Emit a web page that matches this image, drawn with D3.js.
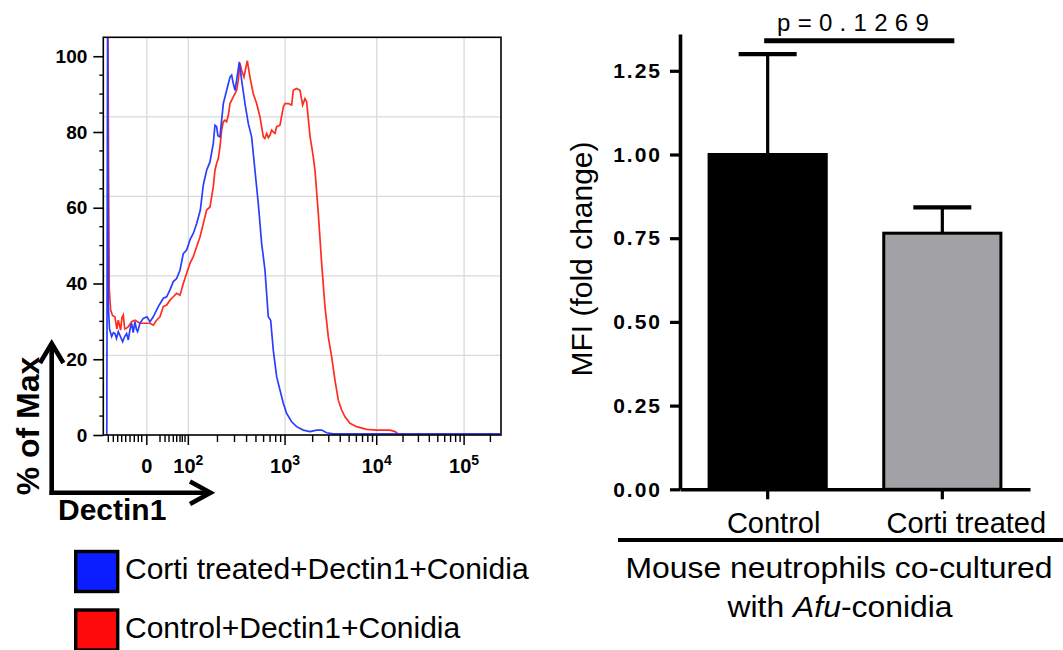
<!DOCTYPE html>
<html><head><meta charset="utf-8">
<script src="https://cdn.jsdelivr.net/npm/d3@7"></script>
<style>
html,body{margin:0;padding:0;background:#fff;}
svg{display:block;font-family:Arial,"Liberation Sans",sans-serif;}
</style></head>
<body>
<svg id="chart" width="1063" height="650"></svg>
<script>
// ---------- Histogram data (display channel 0-1024, % of max) ----------
const cortiCurve = [[9,0],[11,105],[12,70],[13,34],[16,28],[21.5,26],[26,27],[30,26.8],[34,25.5],[38.6,27.3],[44,26],[49.8,24.6],[55,26],[60,26.8],[64.4,25.1],[69,28],[73,29.5],[77,27],[81.5,29.9],[85,28],[88.4,27.3],[94.4,29.5],[103,30.8],[112.4,31.2],[120.2,29.9],[128.7,31.2],[141.6,33.9],[154.5,36.1],[163.1,36.5],[171.7,38.3],[180.2,40.5],[188.8,41.3],[197.4,43.5],[206,47.9],[214.6,48.8],[223.1,51.5],[231.7,53.2],[240.3,55.8],[249.8,59.4],[257.5,66],[266.1,69.9],[274.7,72.1],[283.2,77],[287.5,81.8],[291.8,81.4],[295,79],[300.4,78.7],[309,87.5],[317.6,91],[326.2,94.5],[330.5,95],[334.7,92.8],[339,91],[343.3,93.7],[350.2,98.5],[356.2,93.7],[364.8,87.5],[373.4,82.2],[381.9,78.7],[390.5,69.9],[399.1,61.1],[407.7,50.6],[416.3,43.5],[424.8,31.2],[430.9,30.3],[437.7,22.4],[446.3,15.4],[454.9,11.9],[463.5,8.4],[472.1,5.7],[484.9,3.5],[497.8,2.2],[515,1.3],[532.1,0.9],[549.3,1.3],[562.2,1.3],[575.1,0.6],[592.2,0.3],[1021,0.3]];
const controlCurve = [[12,105],[13.5,70],[15.4,38.3],[18.9,33],[24,31.5],[30,31.2],[35,28],[38.6,30.3],[44.6,27.7],[48,31],[51.5,31.7],[55,28],[58.4,28.1],[64.4,28.6],[73,29.9],[81.5,30.3],[94.4,29.5],[107.3,29.5],[120.2,29.5],[128.7,29],[137.3,30.3],[145.9,31.2],[154.5,33.9],[163.1,34.3],[171.7,35.6],[180.2,36.5],[188.8,37.4],[197.4,36.9],[206,40],[214.6,42.7],[223.1,45.3],[231.7,47.1],[240.3,49.7],[248.9,52.3],[257.5,55.8],[266.1,59.4],[274.7,60.2],[278.9,62.9],[283.2,65.5],[287.5,69.9],[291.8,71.7],[296.1,73],[300.4,76.1],[304.7,80.5],[309,82.7],[313.3,83.1],[317.6,82.7],[321.9,84.4],[326.2,87.5],[334.7,89.3],[343.3,91],[347.6,93.7],[351.9,98.1],[356.2,96.3],[362.2,94.5],[367.4,97.2],[370.8,98.8],[377.6,94.5],[386.2,90.1],[394.8,87.5],[403.4,84],[412,78.7],[416,78.3],[420.6,79.6],[425,78.5],[429.2,79.2],[433.4,80.5],[437.7,80],[442,79.6],[446.3,81.4],[454.9,81.8],[463.5,86.6],[467.8,87.5],[476.3,87.5],[484.9,87.1],[489.2,91],[497.8,91.5],[506.4,91],[513.3,87.1],[519.3,88.8],[523.6,88],[532.1,79],[540.7,73.4],[545,69.9],[553.6,58.5],[562.2,45.3],[570.8,33.9],[579.3,25.9],[587.9,20.7],[596.5,14.5],[605.1,9.2],[613.7,6.6],[622.3,4.8],[635.1,3.1],[652.3,2.2],[678.1,1.5],[703.8,1.3],[738.1,1.3],[751,0.9],[759.6,0.3],[1021,0.3]];
const histYTicks = [0,20,40,60,80,100];
const histXTickChannels = [112,219,468,704,929];
const histXTickLabels = [["0",""],["10","2"],["10","3"],["10","4"],["10","5"]];
const histXNearZeroMinor = [12.9,25.8,37.1,47.4,57.7,68.8,79.8,90.1,98.9,146,158.9,169.2,180.3,189,197.5,203.4,210.4];
const legendLabels = ["Corti treated+Dectin1+Conidia","Control+Dectin1+Conidia"];

// ---------- Bar chart data ----------
const barCategories = ["Control","Corti treated"];
const barValues = [1.0, 0.765];
const barErrors = [0.30, 0.077];
const barYTicks = [0,0.25,0.5,0.75,1.0,1.25];
const pValueLabel = "p=0.1269";

const svg = d3.select("#chart");

// ================= HISTOGRAM =================
const hx = d3.scaleLinear().domain([0,1024]).range([103.3,501]);
const hy = d3.scaleLinear().domain([0,105]).range([435,37.3]);

const hg = svg.append("g");
// grid
[21,42,63,84].forEach(v=>{
  hg.append("line").attr("x1",hx(0)).attr("x2",hx(1024)).attr("y1",hy(v)).attr("y2",hy(v))
    .attr("stroke","#dadada").attr("stroke-width",1.3);
});
histXTickChannels.forEach(c=>{
  hg.append("line").attr("x1",hx(c)).attr("x2",hx(c)).attr("y1",hy(0)).attr("y2",hy(105))
    .attr("stroke","#dadada").attr("stroke-width",1.3);
});

svg.append("clipPath").attr("id","hclip").append("rect")
  .attr("x",hx(0)).attr("y",hy(105)).attr("width",hx(1024)-hx(0)).attr("height",hy(0)-hy(105));

const line = d3.line().x(d=>hx(d[0])).y(d=>hy(d[1]));
hg.append("path").datum(controlCurve).attr("d",line).attr("fill","none")
  .attr("stroke","#ff2d1f").attr("stroke-width",1.7).attr("clip-path","url(#hclip)");
hg.append("path").datum(cortiCurve).attr("d",line).attr("fill","none")
  .attr("stroke","#2b3dff").attr("stroke-width",1.7).attr("clip-path","url(#hclip)");

// box
hg.append("rect").attr("x",hx(0)).attr("y",hy(105)).attr("width",hx(1024)-hx(0)).attr("height",hy(0)-hy(105))
  .attr("fill","none").attr("stroke","#000").attr("stroke-width",1.6);

// y axis
const hyAxis = d3.axisLeft(hy).tickValues(histYTicks).tickSize(10).tickSizeOuter(0).tickPadding(6);
const hyg = hg.append("g").attr("transform",`translate(${hx(0)},0)`).call(hyAxis);
hyg.attr("font-size",null).attr("font-family",null);
hyg.select(".domain").remove();
hyg.selectAll("line").attr("stroke-width",1.6);
hyg.selectAll("text").style("font-size","19px").style("font-weight","bold").style("font-family","Arial, 'Liberation Sans', sans-serif");
const minorY = d3.range(5,105,5).filter(v=>v%20!==0);
hg.selectAll(".hminy").data(minorY).enter().append("line")
  .attr("x1",hx(0)-4).attr("x2",hx(0)).attr("y1",d=>hy(d)).attr("y2",d=>hy(d))
  .attr("stroke","#000").attr("stroke-width",1.4);

// x axis ticks
const decadeMinor = [];
for(let i=1;i<histXTickChannels.length-1;i++){
  const a=histXTickChannels[i], b=histXTickChannels[i+1];
  for(let k=2;k<=9;k++) decadeMinor.push(a+(b-a)*Math.log10(k));
}
const lastSpan = histXTickChannels[4]-histXTickChannels[3];
decadeMinor.push(histXTickChannels[4]+lastSpan*Math.log10(2));
const allMinor = histXNearZeroMinor.concat(decadeMinor);
hg.selectAll(".hminx").data(allMinor).enter().append("line")
  .attr("x1",d=>hx(d)).attr("x2",d=>hx(d)).attr("y1",hy(0)).attr("y2",hy(0)+7)
  .attr("stroke","#000").attr("stroke-width",1.4);
hg.selectAll(".hmajx").data(histXTickChannels).enter().append("line")
  .attr("x1",d=>hx(d)).attr("x2",d=>hx(d)).attr("y1",hy(0)).attr("y2",hy(0)+10)
  .attr("stroke","#000").attr("stroke-width",1.5);
const xl = hg.selectAll(".hxl").data(histXTickChannels).enter().append("text")
  .attr("x",d=>hx(d)).attr("y",473).attr("text-anchor","middle")
  .style("font-size","20px").style("font-weight","bold");
xl.append("tspan").text((d,i)=>histXTickLabels[i][0]);
xl.append("tspan").attr("dy",-8).style("font-size","14px").text((d,i)=>histXTickLabels[i][1]);

// corner arrows
const ag = svg.append("g").attr("stroke","#000").attr("stroke-width",4.6).attr("fill","none");
ag.append("path").attr("d","M51.7,495 L51.7,343");
ag.append("path").attr("d","M40,363 L51.7,343.5 L63.4,363").attr("stroke-linejoin","miter");
ag.append("path").attr("d","M49.5,492.8 L210,492.8");
ag.append("path").attr("d","M190,481.5 L210.5,492.8 L190,504").attr("stroke-linejoin","miter");
svg.append("text").attr("transform","translate(39,426) rotate(-90)").attr("text-anchor","middle")
  .attr("font-size",32).attr("font-weight","bold").text("% of Max");
svg.append("text").attr("x",58).attr("y",520).attr("font-size",30).attr("font-weight","bold").text("Dectin1");

// legend
const legColors = ["#0a1eff","#ff0a0a"];
const lg = svg.selectAll(".leg").data(legendLabels).enter().append("g")
  .attr("transform",(d,i)=>`translate(0,${i*58.5})`);
lg.append("rect").attr("x",75.7).attr("y",551.5).attr("width",42).attr("height",40)
  .attr("fill",(d,i)=>legColors[i]).attr("stroke","#000").attr("stroke-width",3.4);
lg.append("text").attr("x",125).attr("y",579).attr("font-size",30).text(d=>d);

// ================= BAR CHART =================
const by = d3.scaleLinear().domain([0,1.36]).range([489.3,489.3-1.36*334.8]);
const bx = d3.scaleBand().domain(barCategories).range([680,1030]).paddingInner(0.312).paddingOuter(0.158);
const bg = svg.append("g");

// bars
const barFill = ["#000000","#a2a2a6"];
bg.selectAll(".bar").data(barValues).enter().append("rect")
  .attr("x",(d,i)=>bx(barCategories[i])+1.5).attr("width",bx.bandwidth()-3)
  .attr("y",d=>by(d)).attr("height",d=>by(0)-by(d))
  .attr("fill",(d,i)=>barFill[i]).attr("stroke","#000").attr("stroke-width",3);

// error bars
barValues.forEach((v,i)=>{
  const cx = bx(barCategories[i])+bx.bandwidth()/2;
  bg.append("line").attr("x1",cx).attr("x2",cx).attr("y1",by(v)).attr("y2",by(v+barErrors[i]))
    .attr("stroke","#000").attr("stroke-width",3.2);
  bg.append("line").attr("x1",cx-29).attr("x2",cx+29).attr("y1",by(v+barErrors[i])).attr("y2",by(v+barErrors[i]))
    .attr("stroke","#000").attr("stroke-width",4.2);
});

// y axis
const byAxis = d3.axisLeft(by).tickValues(barYTicks).tickFormat(d3.format(".2f")).tickSize(10).tickSizeOuter(0).tickPadding(8);
const byg = bg.append("g").attr("transform","translate(680,0)").call(byAxis);
byg.attr("font-size",null).attr("font-family",null);
byg.select(".domain").attr("stroke-width",3.6);
byg.selectAll("line").attr("stroke-width",3.2);
byg.selectAll("text").style("font-size","21px").style("font-weight","bold").style("letter-spacing","2px")
  .style("font-family","Arial, 'Liberation Sans', sans-serif");

// x axis
const bxAxis = d3.axisBottom(bx).tickSize(10).tickSizeOuter(0).tickFormat("");
const bxg = bg.append("g").attr("transform",`translate(0,${by(0)})`).call(bxAxis);
bxg.select(".domain").attr("stroke-width",3.6);
bxg.selectAll("line").attr("stroke-width",3.2);
const labelShift = [6,24];
bg.selectAll(".bxl").data(barCategories).enter().append("text")
  .attr("x",(d,i)=>bx(d)+bx.bandwidth()/2+labelShift[i]).attr("y",532.5)
  .attr("text-anchor","middle").attr("font-size",29).text(d=>d);

// y label
svg.append("text").attr("transform","translate(592,259) rotate(-90)").attr("text-anchor","middle")
  .attr("font-size",30).text("MFI (fold change)");

// significance
const sigX1 = bx(barCategories[0])+bx.bandwidth()/2-3.5;
const sigX2 = bx(barCategories[1])+bx.bandwidth()/2+12;
bg.append("line").attr("x1",sigX1).attr("x2",sigX2).attr("y1",40.7).attr("y2",40.7)
  .attr("stroke","#000").attr("stroke-width",5);
bg.append("text").attr("x",777).attr("y",30.7).attr("font-size",24).attr("letter-spacing","7.3px").text(pValueLabel);

// group bracket + caption
bg.append("line").attr("x1",618).attr("x2",1063).attr("y1",540).attr("y2",540).attr("stroke","#000").attr("stroke-width",4);
const cap1 = svg.append("text").attr("transform","translate(839,578) scale(1.1,1)").attr("text-anchor","middle").attr("font-size",29)
  .text("Mouse neutrophils co-cultured");
const cap2 = svg.append("text").attr("transform","translate(840,616.7) scale(1.1,1)").attr("text-anchor","middle").attr("font-size",29);
cap2.append("tspan").text("with ");
cap2.append("tspan").attr("font-style","italic").text("Afu");
cap2.append("tspan").text("-conidia");
</script>
</body></html>
